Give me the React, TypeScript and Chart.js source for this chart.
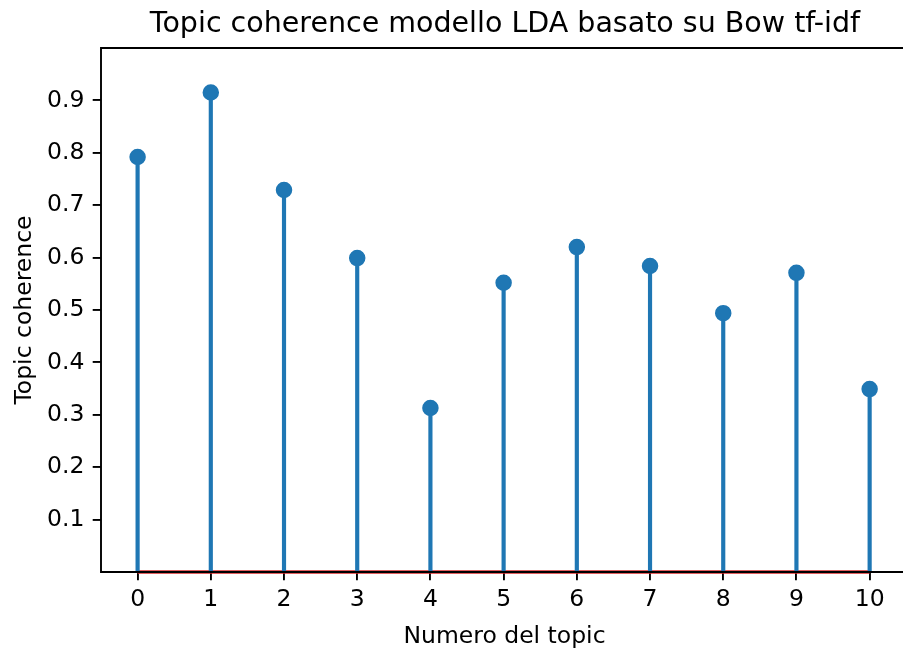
import React, { useEffect, useRef } from "react";
import { Chart, registerables } from "chart.js";

Chart.register(...registerables);

// Topic index and coherence score for each topic of the LDA model
const topics = [0, 1, 2, 3, 4, 5, 6, 7, 8, 9, 10];
const coherence = [0.792, 0.915, 0.729, 0.599, 0.313, 0.552, 0.62, 0.584, 0.494, 0.571, 0.349];
const yTicks = [0.1, 0.2, 0.3, 0.4, 0.5, 0.6, 0.7, 0.8, 0.9];
const xTicks = topics;

const TITLE = "Topic coherence modello LDA basato su Bow tf-idf";
const X_LABEL = "Numero del topic";
const Y_LABEL = "Topic coherence";

const FONT = "DejaVu Sans";
const LABEL_SIZE = 23.5;
const TITLE_SIZE = 28.5;
const STEM = "#1f77b4";
const BASE = "#d62728";
const LW = 1.9;
const TICK_LEN = 8.3;

// Draws the axes frame, title and axis labels on top of the data
const framePlugin = {
  id: "frame",
  afterDatasetsDraw(chart: any) {
    const { ctx, chartArea, width } = chart;
    const { left, top, bottom } = chartArea;
    ctx.save();
    ctx.strokeStyle = "#000";
    ctx.lineWidth = LW;
    ctx.beginPath();
    ctx.moveTo(left, top);
    ctx.lineTo(left, bottom);
    ctx.moveTo(left - LW / 2, bottom);
    ctx.lineTo(width, bottom);
    ctx.moveTo(left - LW / 2, top);
    ctx.lineTo(width, top);
    ctx.stroke();

    ctx.fillStyle = "#000";
    ctx.textAlign = "center";
    ctx.textBaseline = "alphabetic";
    ctx.font = `${TITLE_SIZE}px '${FONT}'`;
    ctx.fillText(TITLE, 505, 31.5);

    ctx.font = `${LABEL_SIZE}px '${FONT}'`;
    ctx.fillText(X_LABEL, 504.5, 642.5);

    ctx.translate(30.5, (top + bottom) / 2);
    ctx.rotate(-Math.PI / 2);
    ctx.fillText(Y_LABEL, 0, 0);
    ctx.restore();
  },
};

export default function App() {
  const canvasRef = useRef<HTMLCanvasElement | null>(null);

  useEffect(() => {
    if (!canvasRef.current) return;
    Chart.defaults.font.family = FONT;
    const chart = new Chart(canvasRef.current, {
      type: "bar",
      data: {
        datasets: [
          {
            type: "scatter",
            data: topics.map((t, i) => ({ x: t, y: coherence[i] })),
            backgroundColor: STEM,
            borderColor: STEM,
            borderWidth: LW,
            pointRadius: 7.3,
            order: 0,
          } as any,
          {
            type: "bar",
            data: topics.map((t, i) => ({ x: t, y: coherence[i] })),
            backgroundColor: STEM,
            barThickness: 3.5,
            order: 1,
          } as any,
          {
            type: "line",
            data: [
              { x: topics[0], y: 0 },
              { x: topics[topics.length - 1], y: 0 },
            ],
            borderColor: BASE,
            borderWidth: 3.5,
            pointRadius: 0,
            clip: false,
            order: 2,
          } as any,
        ],
      },
      options: {
        animation: false,
        responsive: false,
        layout: { padding: { top: 48, left: 0, right: 0, bottom: 0 } },
        plugins: {
          legend: { display: false },
          tooltip: { enabled: false },
          title: { display: false },
        },
        scales: {
          x: {
            type: "linear",
            offset: false,
            min: -0.5,
            max: 10.33,
            afterBuildTicks: (s: any) => {
              s.ticks = xTicks.map((v) => ({ value: v }));
            },
            afterFit: (s: any) => {
              s.height = 80;
            },
            grid: {
              offset: false,
              drawOnChartArea: false,
              drawTicks: true,
              tickLength: TICK_LEN,
              lineWidth: LW,
              color: "#000",
            },
            border: { display: false },
            ticks: {
              padding: 5.6,
              color: "#000",
              autoSkip: false,
              maxRotation: 0,
              font: { family: FONT, size: LABEL_SIZE },
              callback: (v: any) => String(v),
            },
          },
          y: {
            type: "linear",
            min: 0,
            max: 1,
            afterBuildTicks: (s: any) => {
              s.ticks = yTicks.map((v) => ({ value: v }));
            },
            afterFit: (s: any) => {
              s.width = 101;
            },
            grid: {
              drawOnChartArea: false,
              drawTicks: true,
              tickLength: TICK_LEN,
              lineWidth: LW,
              color: "#000",
            },
            border: { display: false },
            ticks: {
              padding: 8.3,
              color: "#000",
              font: { family: FONT, size: LABEL_SIZE },
              callback: (v: any) => Number(v).toFixed(1),
            },
          },
        },
      },
      plugins: [framePlugin],
    } as any);
    return () => chart.destroy();
  }, []);

  return (
    <div style={{ position: "absolute", left: 0, top: 0, width: 903, height: 652, background: "#fff" }}>
      <canvas ref={canvasRef} width={903} height={652} />
    </div>
  );
}
